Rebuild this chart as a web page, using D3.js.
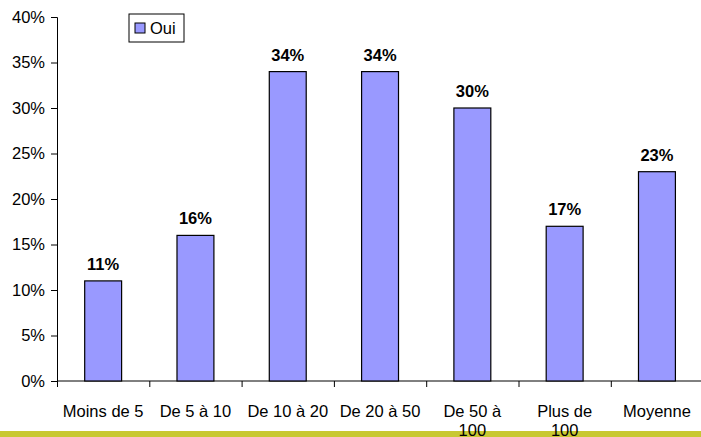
<!DOCTYPE html>
<html>
<head>
<meta charset="utf-8">
<script src="https://cdn.jsdelivr.net/npm/d3@7"></script>
<style>
  body { margin: 0; background: #fff; }
  svg { display: block; font-family: 'Liberation Sans', Arial, sans-serif; }
</style>
</head>
<body>
<div class="js-chart"></div>
<script>
const categories = [['Moins de 5'], ['De 5 à 10'], ['De 10 à 20'], ['De 20 à 50'], ['De 50 à', '100'], ['Plus de', '100'], ['Moyenne']];
const values = [11, 16, 34, 34, 30, 17, 23];
const yTicks = [0, 5, 10, 15, 20, 25, 30, 35, 40];
const seriesName = 'Oui';

const width = 701;
const height = 437;
const margin = { left: 57, top: 17, bottom: 56 };
const FONT = 'Liberation Sans, Arial, sans-serif';

const svg = d3
  .select('.js-chart')
  .append('svg')
  .attr('width', width)
  .attr('height', height);

const x = d3
  .scaleBand()
  .domain(d3.range(categories.length))
  .range([margin.left, margin.left + 92.3 * categories.length])
  .paddingInner(0.6)
  .paddingOuter(0.3);

const y = d3
  .scaleLinear()
  .domain([0, 40])
  .range([height - margin.bottom, margin.top]);

// y axis
const yAxis = svg
  .append('g')
  .attr('transform', `translate(${margin.left},0)`)
  .call(
    d3
      .axisLeft(y)
      .tickValues(yTicks)
      .tickSize(6)
      .tickPadding(6)
      .tickFormat(d => `${d}%`)
  );
yAxis.select('.domain').attr('stroke', '#000');
yAxis.selectAll('text').attr('font-size', 16.5).attr('fill', '#000').attr('font-family', FONT);

// x axis
const band = x.step();
const xAxis = svg
  .append('g')
  .attr('transform', `translate(0,${y(0)})`);
xAxis
  .append('line')
  .attr('x1', margin.left)
  .attr('x2', width)
  .attr('stroke', '#000');
xAxis
  .selectAll('line.tick')
  .data(d3.range(categories.length + 1))
  .enter()
  .append('line')
  .attr('class', 'tick')
  .attr('x1', d => x(0) - x.paddingOuter() * band + d * band + 0.5)
  .attr('x2', d => x(0) - x.paddingOuter() * band + d * band + 0.5)
  .attr('y2', 6)
  .attr('stroke', '#000');

// bars
svg
  .selectAll('rect.bar')
  .data(values)
  .enter()
  .append('rect')
  .attr('class', 'bar')
  .attr('x', (d, i) => x(i))
  .attr('y', d => y(d))
  .attr('width', x.bandwidth())
  .attr('height', d => y(0) - y(d))
  .attr('fill', '#9999ff')
  .attr('stroke', '#000')
  .attr('stroke-width', 1.2);

// value labels
svg
  .selectAll('text.val')
  .data(values)
  .enter()
  .append('text')
  .attr('class', 'val')
  .attr('x', (d, i) => x(i) + x.bandwidth() / 2)
  .attr('y', d => y(d) - 11)
  .attr('text-anchor', 'middle')
  .attr('font-size', 16.5)
  .attr('font-weight', 'bold')
  .text(d => `${d}%`);

// green footer band
svg
  .append('rect')
  .attr('x', 0)
  .attr('y', 431)
  .attr('width', width)
  .attr('height', 6)
  .attr('fill', '#c8c832');

// category labels
const cat = svg
  .selectAll('text.cat')
  .data(categories)
  .enter()
  .append('text')
  .attr('class', 'cat')
  .attr('x', (d, i) => x(i) + x.bandwidth() / 2)
  .attr('y', 417)
  .attr('text-anchor', 'middle')
  .attr('font-size', 16.5);
cat
  .selectAll('tspan')
  .data(d => d)
  .enter()
  .append('tspan')
  .attr('x', function () { return d3.select(this.parentNode).attr('x'); })
  .attr('dy', (d, i) => (i === 0 ? 0 : 19))
  .text(d => d);

// legend
const legend = svg.append('g').attr('transform', 'translate(129,14)');
legend
  .append('rect')
  .attr('width', 55)
  .attr('height', 28)
  .attr('fill', '#fff')
  .attr('stroke', '#000');
legend
  .append('rect')
  .attr('x', 6)
  .attr('y', 9)
  .attr('width', 10)
  .attr('height', 10)
  .attr('fill', '#9999ff')
  .attr('stroke', '#000');
legend
  .append('text')
  .attr('x', 21)
  .attr('y', 20)
  .attr('font-size', 16.5)
  .text(seriesName);
</script>
</body>
</html>
